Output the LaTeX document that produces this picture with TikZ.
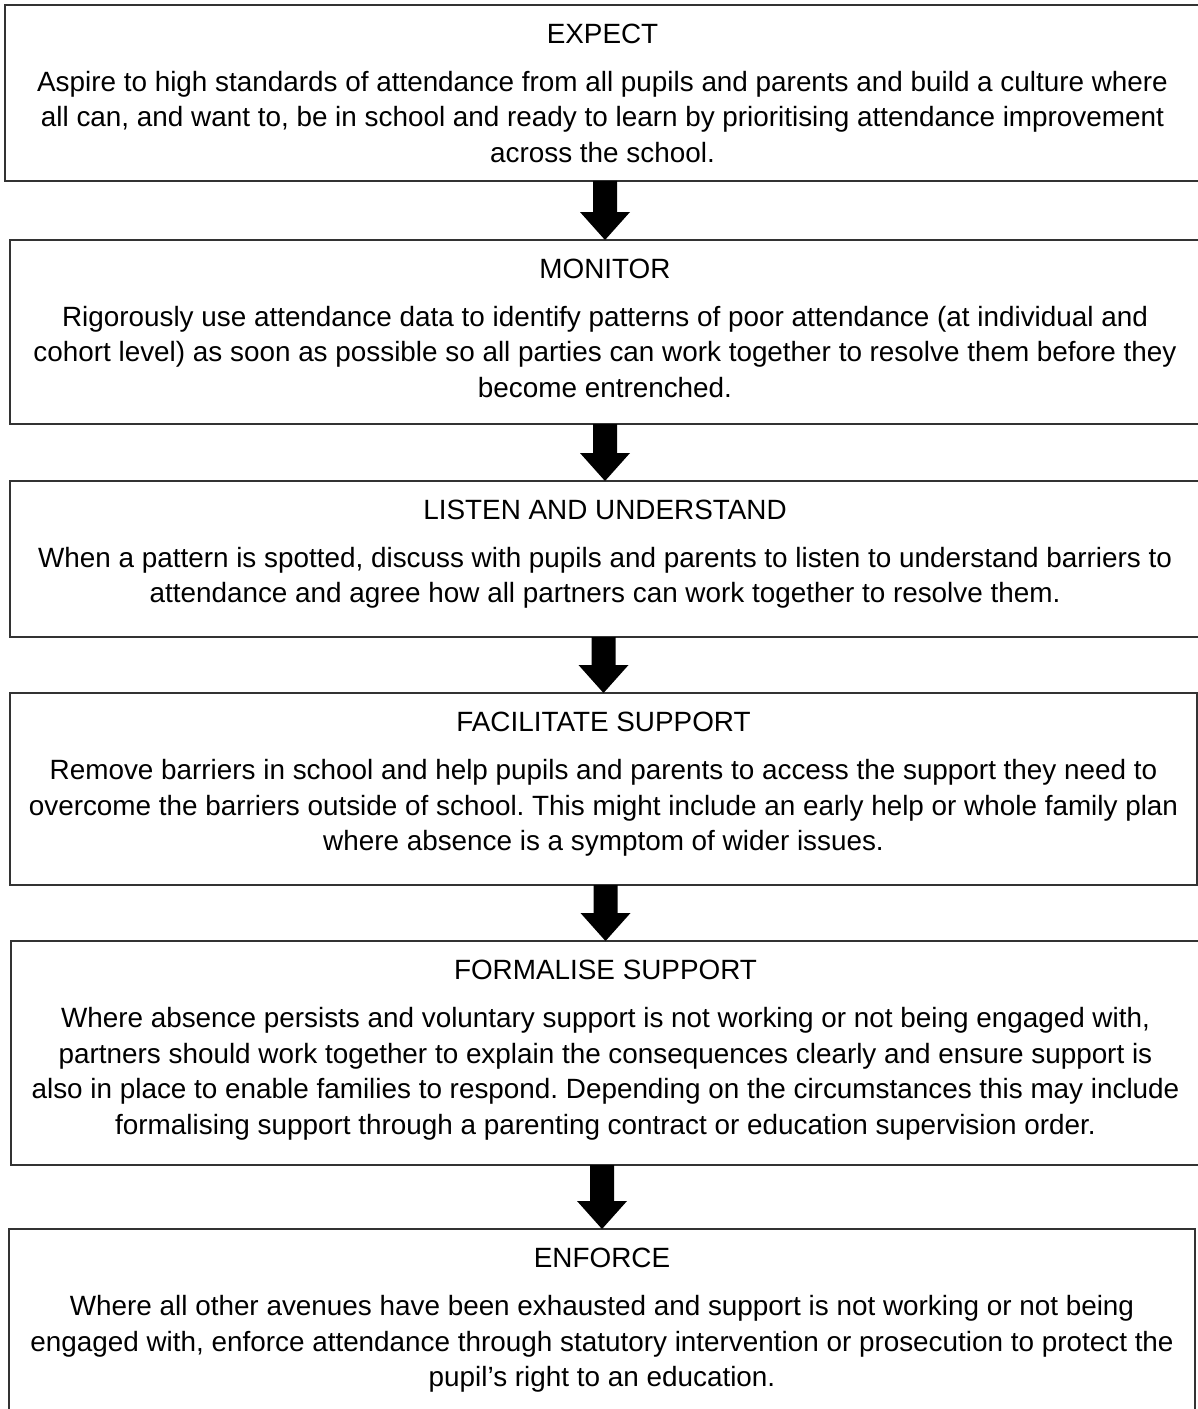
\documentclass[tikz,border=0pt]{standalone}
\usepackage{fontspec}
\setmainfont{Liberation Sans}
\usetikzlibrary{positioning}
\usetikzlibrary{calc}
\frenchspacing
\tikzset{stagebox/.style={draw=black!80, line width=1.6pt, inner sep=0pt, outer sep=0pt, anchor=north west},
 stagetext/.style={align=center, inner sep=0pt, outer sep=0pt, anchor=north,
   font=\fontsize{20.9}{26.7}\selectfont},
 downarrow/.style={fill=black},
 }

\begin{document}
\begin{tikzpicture}[x=0.75pt, y=-0.75pt]
        \useasboundingbox (0,0) rectangle (1198,1409);

        % the six stages
        \node[stagebox, minimum width=896.25pt, minimum height=132pt] (expect) at (5,5) {};
        \node[stagebox, minimum width=892.5pt, minimum height=138pt] (monitor) at (10,240) {};
        \node[stagebox, minimum width=892.5pt, minimum height=117pt] (listen) at (10,481) {};
        \node[stagebox, minimum width=890.25pt, minimum height=144pt] (facilitate) at (10,693) {};
        \node[stagebox, minimum width=891.75pt, minimum height=168pt] (formalise) at (11,941) {};
        \node[stagebox, minimum width=889.5pt, minimum height=135.75pt] (enforce) at (9,1229) {};

        \node[stagetext, below=14.5pt of expect.north] (expect-text) {EXPECT\\[9pt]
            Aspire to high standards of attendance from all pupils and parents and build a culture where\\
            all can, and want to, be in school and ready to learn by prioritising attendance improvement\\
            across the school.};
        \node[stagetext, below=14.5pt of monitor.north] (monitor-text) {MONITOR\\[9pt]
            Rigorously use attendance data to identify patterns of poor attendance (at individual and\\
            cohort level) as soon as possible so all parties can work together to resolve them before they\\
            become entrenched.};
        \node[stagetext, below=14.5pt of listen.north] (listen-text) {LISTEN AND UNDERSTAND\\[9pt]
            When a pattern is spotted, discuss with pupils and parents to listen to understand barriers to\\
            attendance and agree how all partners can work together to resolve them.};
        \node[stagetext, below=14.5pt of facilitate.north] (facilitate-text) {FACILITATE SUPPORT\\[9pt]
            Remove barriers in school and help pupils and parents to access the support they need to\\
            overcome the barriers outside of school. This might include an early help or whole family plan\\
            where absence is a symptom of wider issues.};
        \node[stagetext, below=14.5pt of formalise.north] (formalise-text) {FORMALISE SUPPORT\\[9pt]
            Where absence persists and voluntary support is not working or not being engaged with,\\
            partners should work together to explain the consequences clearly and ensure support is\\
            also in place to enable families to respond. Depending on the circumstances this may include\\
            formalising support through a parenting contract or education supervision order.};
        \node[stagetext, below=14.5pt of enforce.north] (enforce-text) {ENFORCE\\[9pt]
            Where all other avenues have been exhausted and support is not working or not being\\
            engaged with, enforce attendance through statutory intervention or prosecution to protect the\\
            pupil’s right to an education.};

        % block arrows between stages
        \foreach \a/\b in {expect/monitor, monitor/listen, listen/facilitate, facilitate/formalise, formalise/enforce} {
            \coordinate (tip) at (\b.north);
            \fill[downarrow] ($(\b.north |- \a.south)+(-9pt,0pt)$) -- ($(tip)+(-9pt,21pt)$) -- ($(tip)+(-18.75pt,21pt)$)
                -- (tip) -- ($(tip)+(18.75pt,21pt)$) -- ($(tip)+(9pt,21pt)$) -- ($(\b.north |- \a.south)+(9pt,0pt)$) -- cycle;
        }
    \end{tikzpicture}
\end{document}
